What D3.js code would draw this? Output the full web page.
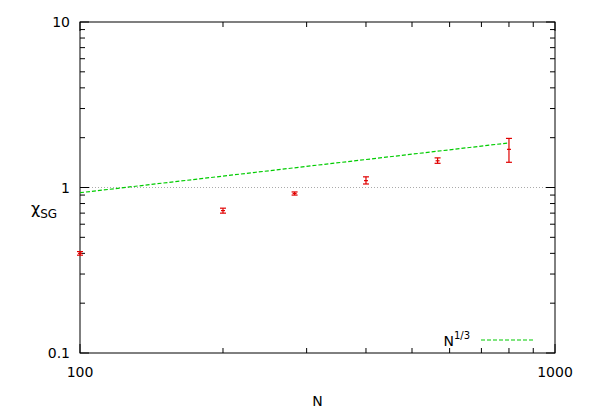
<!DOCTYPE html>
<html lang="en">
<head>
<meta charset="UTF-8">
<style>
  body { margin: 0; background: #fff; font-family: "DejaVu Sans", Arial, sans-serif; }
  text { font-family: "DejaVu Sans", Arial, sans-serif; }
</style>
</head>
<body>
<div id="chart"></div>
<script src="https://d3js.org/d3.v7.min.js"></script>
<script>
// data
const sizes = [100, 200, 283, 400, 566, 800];
const chi = [0.40, 0.725, 0.92, 1.10, 1.45, 1.70];
const chiLow = [0.39, 0.70, 0.90, 1.05, 1.40, 1.42];
const chiHigh = [0.41, 0.75, 0.94, 1.16, 1.51, 1.98];
const fitStart = [100, 0.93];
const fitEnd = [800, 1.86];
const xTicks = [100, 1000];
const yTicks = [0.1, 1, 10];

const width = 590, height = 413;
const margin = { left: 80, right: 35, top: 22, bottom: 60 };

const svg = d3.select("#chart").append("svg")
    .attr("width", width).attr("height", height);

const x = d3.scaleLog().domain([100, 1000]).range([margin.left, width - margin.right]);
const y = d3.scaleLog().domain([0.1, 10]).range([height - margin.bottom, margin.top]);

const x0 = x.range()[0], x1 = x.range()[1];
const y0 = y.range()[0], y1 = y.range()[1];

// reference line at 1
svg.append("line")
    .attr("x1", x0).attr("x2", x1).attr("y1", y(1)).attr("y2", y(1))
    .attr("stroke", "#aaa").attr("stroke-width", 1).attr("stroke-dasharray", "1,2");

// ticks (inside, mirrored)
const g = svg.append("g").attr("stroke", "#000").attr("stroke-width", 1);
const minorX = [];
for (let v = 200; v < 1000; v += 100) minorX.push(v);
const minorY = [];
[0.1, 1].forEach(d => { for (let k = 2; k < 10; k++) minorY.push(d * k); });

xTicks.forEach(v => {
  g.append("line").attr("x1", x(v)).attr("x2", x(v)).attr("y1", y0).attr("y2", y0 - 9);
  g.append("line").attr("x1", x(v)).attr("x2", x(v)).attr("y1", y1).attr("y2", y1 + 9);
});
minorX.forEach(v => {
  g.append("line").attr("x1", x(v)).attr("x2", x(v)).attr("y1", y0).attr("y2", y0 - 5);
  g.append("line").attr("x1", x(v)).attr("x2", x(v)).attr("y1", y1).attr("y2", y1 + 5);
});
yTicks.forEach(v => {
  g.append("line").attr("x1", x0).attr("x2", x0 + 9).attr("y1", y(v)).attr("y2", y(v));
  g.append("line").attr("x1", x1).attr("x2", x1 - 9).attr("y1", y(v)).attr("y2", y(v));
});
minorY.forEach(v => {
  g.append("line").attr("x1", x0).attr("x2", x0 + 5).attr("y1", y(v)).attr("y2", y(v));
  g.append("line").attr("x1", x1).attr("x2", x1 - 5).attr("y1", y(v)).attr("y2", y(v));
});

svg.append("rect")
    .attr("x", x0).attr("y", y1).attr("width", x1 - x0).attr("height", y0 - y1)
    .attr("fill", "none").attr("stroke", "#000").attr("stroke-width", 1);

// tick labels
xTicks.forEach(v => {
  svg.append("text").attr("x", x(v)).attr("y", y0 + 24)
    .attr("text-anchor", "middle").attr("font-size", 14).text(v);
});
yTicks.forEach(v => {
  svg.append("text").attr("x", x0 - 10).attr("y", y(v) + 5)
    .attr("text-anchor", "end").attr("font-size", 14).text(v);
});

// axis labels
svg.append("text").attr("x", (x0 + x1) / 2).attr("y", 406)
  .attr("text-anchor", "middle").attr("font-size", 14).text("N");
const yl = svg.append("text").attr("x", 31).attr("y", 214).attr("font-size", 16);
yl.append("tspan").text("χ");
yl.append("tspan").attr("font-size", 12).attr("dy", 4).text("SG");

// fit line
svg.append("line")
    .attr("x1", x(fitStart[0])).attr("y1", y(fitStart[1]))
    .attr("x2", x(fitEnd[0])).attr("y2", y(fitEnd[1]))
    .attr("stroke", "#00cc00").attr("stroke-width", 1.2).attr("stroke-dasharray", "4,2");

// error bars
const eb = svg.append("g").attr("stroke", "#e00000").attr("stroke-width", 1.2);
sizes.forEach((n, i) => {
  const cx = x(n);
  eb.append("line").attr("x1", cx).attr("x2", cx).attr("y1", y(chiLow[i])).attr("y2", y(chiHigh[i]));
  eb.append("line").attr("x1", cx - 3).attr("x2", cx + 3).attr("y1", y(chiLow[i])).attr("y2", y(chiLow[i]));
  eb.append("line").attr("x1", cx - 3).attr("x2", cx + 3).attr("y1", y(chiHigh[i])).attr("y2", y(chiHigh[i]));
  eb.append("line").attr("x1", cx - 2).attr("x2", cx + 2).attr("y1", y(chi[i])).attr("y2", y(chi[i]));
});

// legend
const lt = svg.append("text").attr("x", 470).attr("y", 346)
  .attr("text-anchor", "end").attr("font-size", 14);
lt.append("tspan").text("N");
lt.append("tspan").attr("font-size", 10).attr("dy", -7).text("1/3");
svg.append("line").attr("x1", 481).attr("x2", 533).attr("y1", 340).attr("y2", 340)
  .attr("stroke", "#00cc00").attr("stroke-width", 1.2).attr("stroke-dasharray", "4,2");
</script>
</body>
</html>
